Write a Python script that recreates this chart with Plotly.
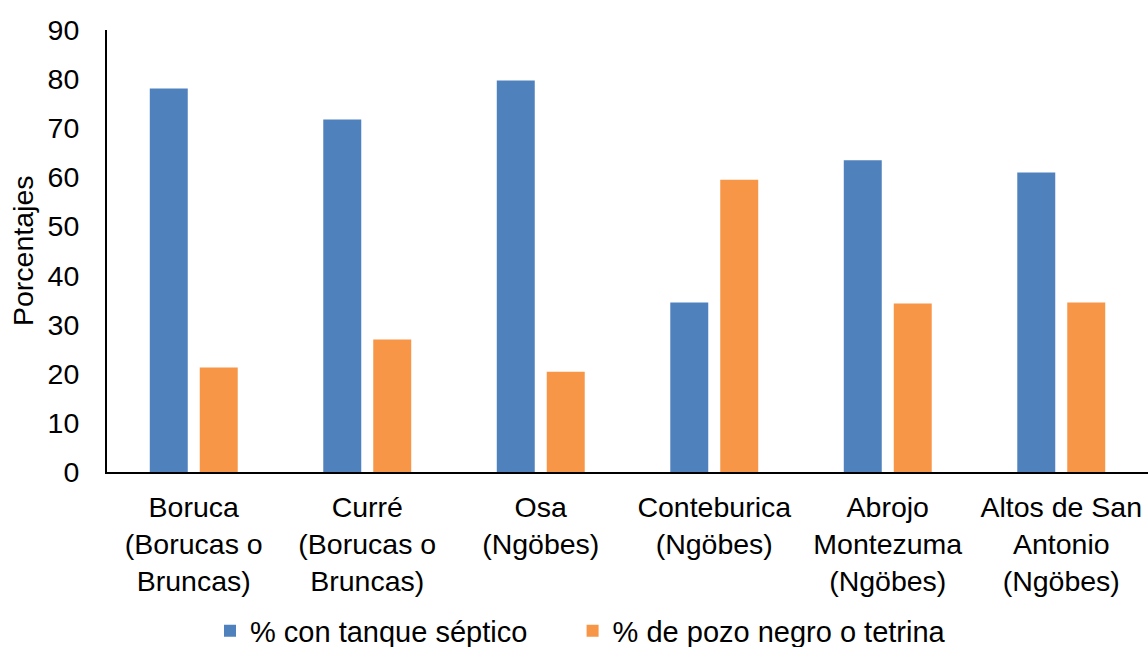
import plotly.graph_objects as go

categories = [
    "Boruca<br>(Borucas o<br>Bruncas)",
    "Curré<br>(Borucas o<br>Bruncas)",
    "Osa<br>(Ngöbes)",
    "Conteburica<br>(Ngöbes)",
    "Abrojo<br>Montezuma<br>(Ngöbes)",
    "Altos de San<br>Antonio<br>(Ngöbes)",
]
septico = [78.1, 71.8, 79.7, 34.5, 63.5, 61.0]
pozo = [21.3, 27.0, 20.4, 59.5, 34.3, 34.5]
series_names = ["% con tanque séptico", "% de pozo negro o tetrina"]
y_ticks = [0, 10, 20, 30, 40, 50, 60, 70, 80, 90]

FONT = "Liberation Sans, Arial, sans-serif"
FS = 28.5
PAD = "\u00a0" * 5  # spacing between legend entries

fig = go.Figure()
fig.add_trace(go.Bar(x=categories, y=septico, name=series_names[0] + PAD,
                     marker=dict(color="#4F81BD", line=dict(width=0))))
fig.add_trace(go.Bar(x=categories, y=pozo, name=series_names[1],
                     marker=dict(color="#F79646", line=dict(width=0))))

W, H = 1148, 647
ml, mr, mt, mb = 107, 0, 30, 175
ph = H - mt - mb
pw = W - ml - mr

fig.update_layout(
    width=W, height=H,
    margin=dict(l=ml, r=mr, t=mt, b=mb, autoexpand=False),
    paper_bgcolor="white", plot_bgcolor="white",
    font=dict(family=FONT, size=FS, color="black"),
    barmode="group", bargap=0.424, bargroupgap=0.24,
    showlegend=True,
    legend=dict(orientation="h", x=(210 - ml) / pw, xanchor="left",
                y=-(631 - (H - mb)) / ph, yanchor="middle",
                font=dict(family=FONT, size=29), itemclick=False,
                traceorder="normal"),
    xaxis=dict(showline=True, linecolor="black", linewidth=2,
               ticks="", showgrid=False, tickangle=0, ticklabelstandoff=9,
               tickfont=dict(family=FONT, size=FS), fixedrange=True),
    yaxis=dict(range=[0, 90], tickvals=y_ticks, showline=True,
               linecolor="black", linewidth=2, ticks="", showgrid=False,
               zeroline=False, ticklabelstandoff=20,
               tickfont=dict(family=FONT, size=FS), fixedrange=True),
    annotations=[dict(text="Porcentajes", xref="paper", yref="paper",
                      x=(23 - ml) / pw, y=0.5, xanchor="center", yanchor="middle",
                      textangle=-90, showarrow=False,
                      font=dict(family=FONT, size=FS))],
)

fig.write_html("out.html", config={"displayModeBar": False},
               post_script="document.body.style.margin='0';document.body.style.overflow='hidden';")
